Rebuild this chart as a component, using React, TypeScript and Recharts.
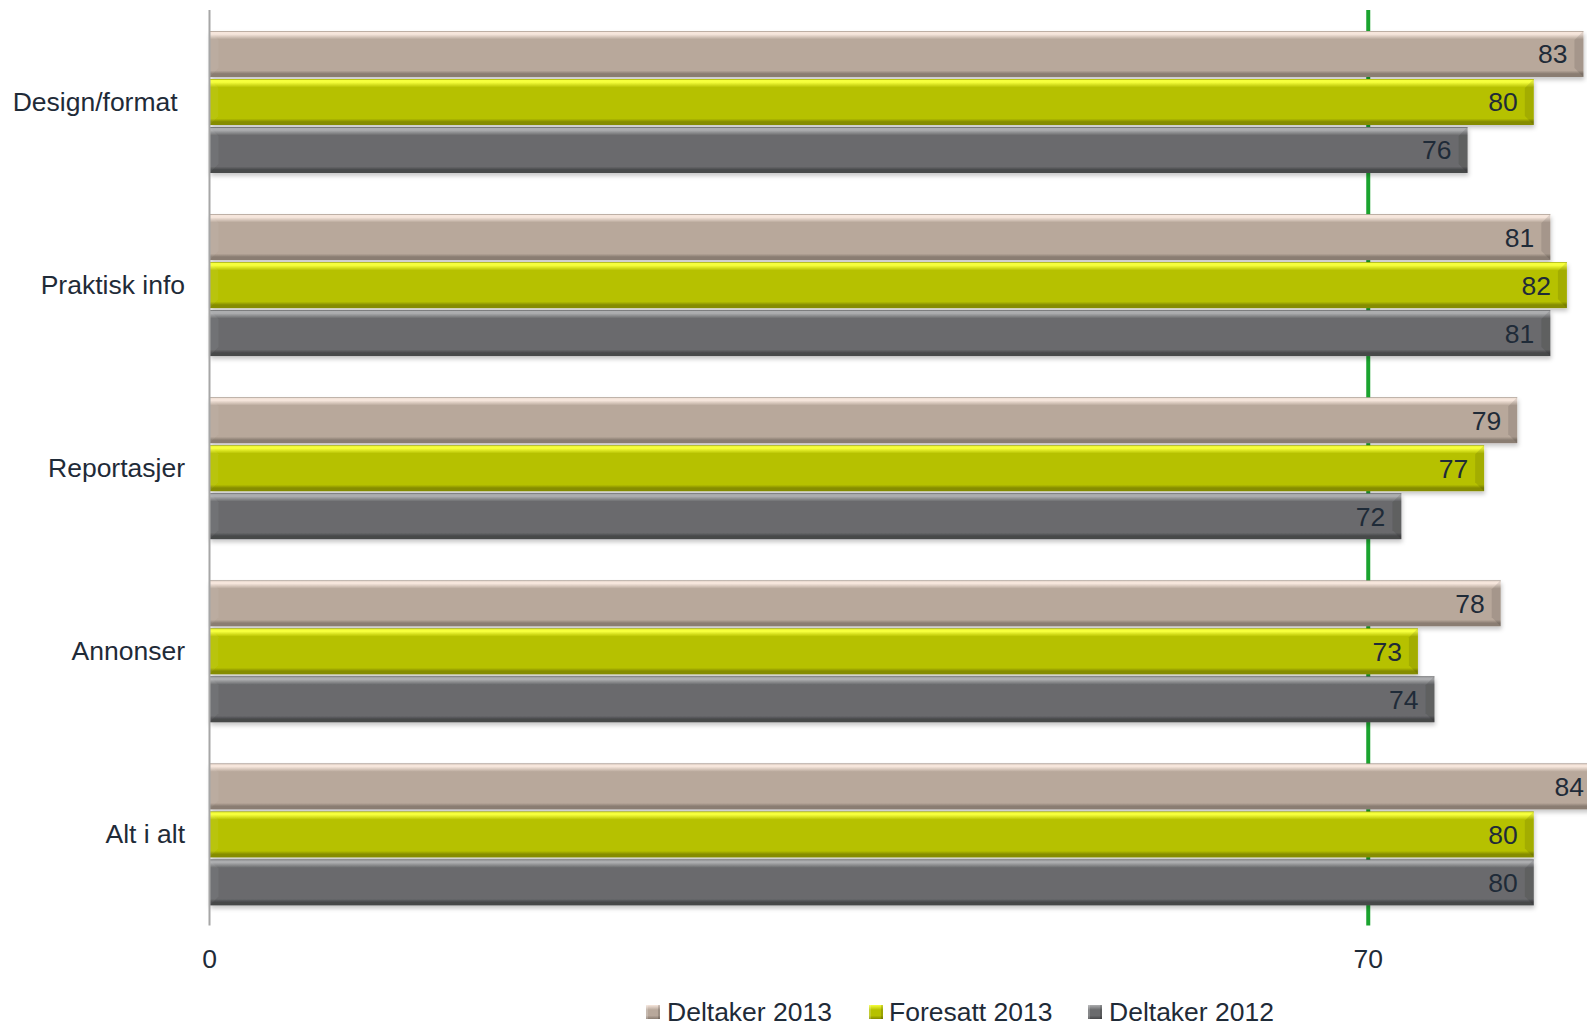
import React from 'react';
import { BarChart, Bar, XAxis, YAxis, CartesianGrid, LabelList } from 'recharts';

const categories = ['Design/format\u00a0', 'Praktisk info', 'Reportasjer', 'Annonser', 'Alt i alt'];
const deltaker2013 = [83, 81, 79, 78, 84];
const foresatt2013 = [80, 82, 77, 73, 80];
const deltaker2012 = [76, 81, 72, 74, 80];
const xTicks = [0, 70];
const xMax = 84;
const target = 70;

const data = categories.map((name, i) => ({
  name,
  d13: deltaker2013[i],
  f13: foresatt2013[i],
  d12: deltaker2012[i],
}));

const FONT = '"Liberation Sans", Arial, sans-serif';
const TEXT = '#1f2b38';

const series = [
  { key: 'd13', label: 'Deltaker 2013', id: 'tan', edge: '#9d8f84', light: '#f6e6dc', base: '#b8a89b', dark: '#8a7d72' },
  { key: 'f13', label: 'Foresatt 2013', id: 'grn', edge: '#9aa300', light: '#f6ff3c', base: '#b6c100', dark: '#858c00' },
  { key: 'd12', label: 'Deltaker 2012', id: 'gry', edge: '#5a5b5d', light: '#acadaf', base: '#6a6b6d', dark: '#47484a' },
];

const BevelBar = (props: any) => {
  const { x, y, width, height, gid } = props;
  if (!width || width <= 0) return null;
  const bv = Math.min(9, width / 2);
  return (
    <g filter="url(#barShadow)">
      <rect x={x} y={y} width={width} height={height} fill={`url(#g-${gid})`} />
      <polygon
        points={`${x + width - bv},${y + bv} ${x + width},${y} ${x + width},${y + height} ${x + width - bv},${y + height - bv}`}
        fill="#000"
        fillOpacity={0.1}
      />
      <polygon
        points={`${x},${y} ${x + bv},${y + bv} ${x + bv},${y + height - bv} ${x},${y + height}`}
        fill="#fff"
        fillOpacity={0.05}
      />
    </g>
  );
};

// green target line, drawn as a grid line so it sits behind the bars
const targetLine = ({ xAxis, offset }: any) => {
  if (xAxis && typeof xAxis.scale === 'function') return [xAxis.scale(target)];
  return [offset.left + (target / xMax) * offset.width];
};

const legendPos = [
  { sq: 646, tx: 667 },
  { sq: 869, tx: 889 },
  { sq: 1088, tx: 1109 },
];

export default function App() {
  return (
    <div
      style={{
        position: 'fixed',
        left: 0,
        top: 0,
        width: 1587,
        height: 1026,
        overflow: 'hidden',
        background: '#fff',
        fontFamily: FONT,
      }}
    >
      <BarChart
        width={1600}
        height={1026}
        data={data}
        layout="vertical"
        margin={{ top: 10, right: 0, bottom: 40.5, left: 0 }}
        barSize={46}
        barGap={2}
      >
        <defs>
          {series.map((s) => (
            <linearGradient key={s.id} id={`g-${s.id}`} x1="0" y1="0" x2="0" y2="1">
              <stop offset="0%" stopColor={s.edge} />
              <stop offset="3%" stopColor={s.light} />
              <stop offset="7%" stopColor={s.light} />
              <stop offset="18%" stopColor={s.base} />
              <stop offset="86%" stopColor={s.base} />
              <stop offset="93%" stopColor={s.dark} />
              <stop offset="100%" stopColor={s.dark} />
            </linearGradient>
          ))}
          <filter id="barShadow" x="-5%" y="-20%" width="110%" height="150%">
            <feDropShadow dx="1" dy="3" stdDeviation="2" floodColor="#000" floodOpacity="0.22" />
          </filter>
        </defs>
        <CartesianGrid
          horizontal={false}
          vertical
          stroke="#1aa32e"
          strokeWidth={4}
          verticalCoordinatesGenerator={targetLine}
        />
        <XAxis
          type="number"
          domain={[0, xMax]}
          ticks={xTicks}
          axisLine={false}
          tickLine={false}
          tickMargin={18}
          height={60}
          tick={{ fontSize: 26.5, fill: TEXT, fontFamily: FONT }}
        />
        <YAxis
          type="category"
          dataKey="name"
          width={209.5}
          axisLine={{ stroke: '#a6a6a6', strokeWidth: 2 }}
          tickLine={false}
          tickMargin={18.5}
          tick={{ fontSize: 26.5, fill: TEXT, fontFamily: FONT }}
        />
        {series.map((s) => (
          <Bar
            key={s.key}
            dataKey={s.key}
            name={s.label}
            fill={s.base}
            isAnimationActive={false}
            shape={(p: any) => <BevelBar {...p} gid={s.id} />}
          >
            <LabelList
              dataKey={s.key}
              position="insideRight"
              offset={16}
              style={{ fontSize: 26.5, fill: TEXT, fontFamily: FONT }}
            />
          </Bar>
        ))}
      </BarChart>
      {series.map((s, i) => (
        <React.Fragment key={s.id}>
          <div
            style={{
              position: 'absolute',
              left: legendPos[i].sq,
              top: 1005,
              width: 14,
              height: 14,
              background: `linear-gradient(to bottom, ${s.light} 0%, ${s.base} 35%, ${s.base} 75%, ${s.dark} 100%)`,
              boxShadow: 'inset -2px 0 0 rgba(0,0,0,0.15), inset 2px 0 0 rgba(255,255,255,0.2)',
            }}
          />
          <div
            style={{
              position: 'absolute',
              left: legendPos[i].tx,
              top: 996,
              fontSize: 26.5,
              lineHeight: '32px',
              color: TEXT,
              whiteSpace: 'nowrap',
            }}
          >
            {s.label}
          </div>
        </React.Fragment>
      ))}
    </div>
  );
}
